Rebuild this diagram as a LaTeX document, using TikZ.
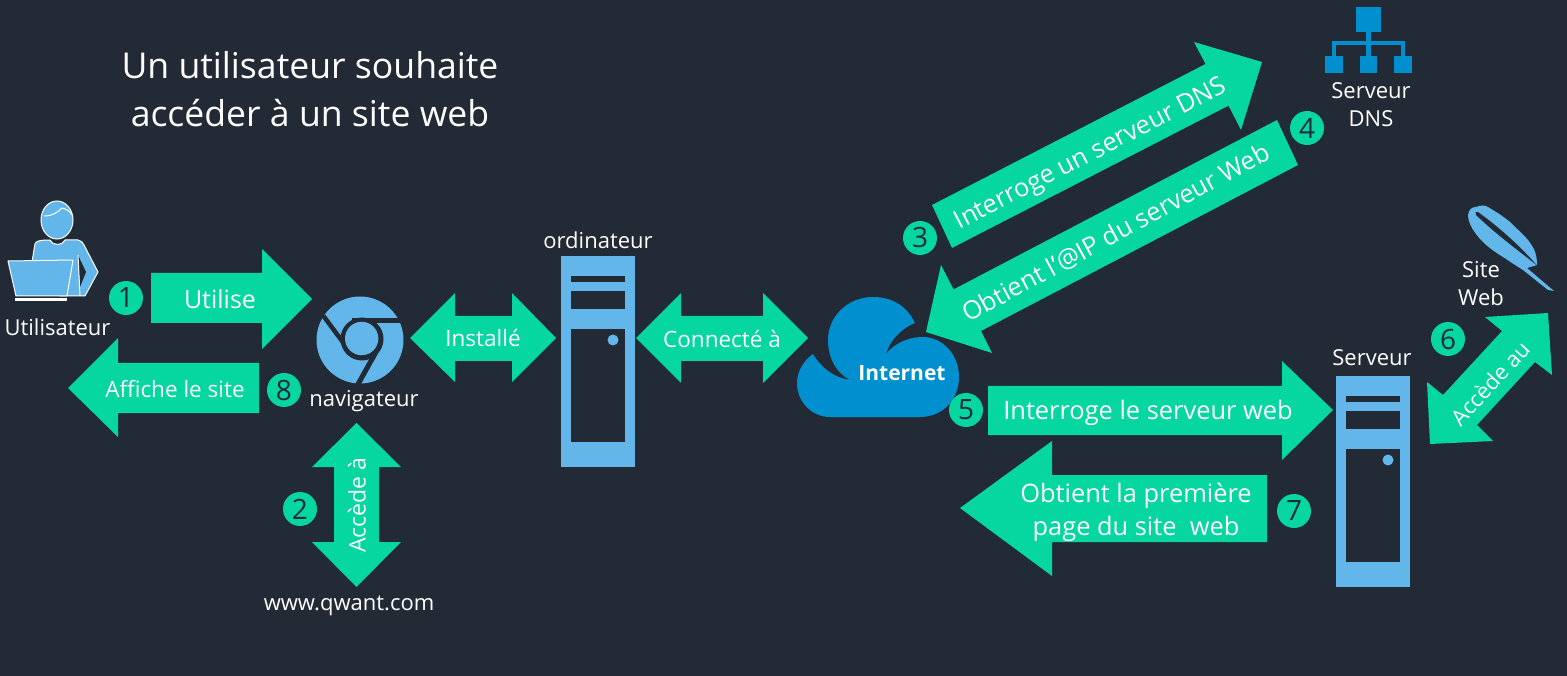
\documentclass[tikz,border=0pt]{standalone}
\usepackage{fontspec}
\setmainfont{Open Sans}
\definecolor{bg}{HTML}{222A35}
\definecolor{vert}{HTML}{06D6A0}
\definecolor{ciel}{HTML}{63B6E9}
\definecolor{azur}{HTML}{0090D0}
\definecolor{chiffre}{HTML}{1B2A41}
\newcommand{\fs}[2]{\fontsize{#1}{#2}\selectfont}
\newcommand{\serverbox}[2]{%
  \fill[ciel] (#1+561,#2+256) rectangle (#1+635,#2+467);
  \fill[bg] (#1+571,#2+276) rectangle (#1+625,#2+282);
  \fill[bg] (#1+571,#2+291) rectangle (#1+625,#2+309);
  \fill[bg] (#1+571,#2+329) rectangle (#1+625,#2+442);
  \fill[ciel] (#1+613,#2+340) circle[radius=5.5];
}
\tikzset{
  x=1pt,y=-1pt,
  blockarrow/.style={fill=vert},
  lab/.style={text=white,inner sep=0pt,align=center,font=\fs{22}{28}},
  arrowtext/.style={text=white,inner sep=0pt,align=center,font=\fs{22.5}{33}},
  bigtext/.style={text=white,inner sep=0pt,align=center,font=\fs{25.4}{33}},
  num/.style={circle,fill=vert,minimum size=34pt,inner sep=0pt,text=chiffre,font=\fs{28}{28}},
}
\begin{document}
\begin{tikzpicture}
\useasboundingbox (0,0) rectangle (1567,676);
\fill[bg] (0,0) rectangle (1567,676);

% title
\node[text=white,inner sep=0pt,align=center,font=\fs{35.6}{48}] (title) at (310,89) {Un utilisateur souhaite\\accéder à un site web};

% person
\fill[ciel,draw=white,line width=1pt,line join=round] (32,262) -- (35,244) .. controls (36,241) and (40,240) .. (50,240) .. controls (52,246) and (63,246) .. (65,240) -- (78,240) .. controls (81,240) and (83,243) .. (84,245) -- (98,272) -- (85,296) -- (60,296) -- cycle;
\fill[bg] (78,255) -- (86,272) -- (80,287) -- cycle;
\draw[white,line width=1pt] (78,255) -- (80,296);
\fill[ciel,draw=white,line width=1pt] (57,220) ellipse[x radius=16,y radius=19];
\draw[white,line width=1pt] (44,216) .. controls (53,216) and (58,212) .. (62,208) .. controls (66,209) and (70,211) .. (72,215);
\fill[ciel,draw=white,line width=1pt,line join=round] (8,261) -- (73,260) -- (67,296) -- (16,296) -- cycle;
\draw[white,line width=2.5pt] (15,299.5) -- (67,299.5);
\node[lab] (user) at (57.5,327) {Utilisateur};

% browser icon
\fill[ciel] (360,340) circle[radius=43.5];
\draw[bg,line width=5pt] (352,321) -- (405,321);
\draw[bg,line width=4.5pt] (323.5,316) -- (345,345);
\draw[bg,line width=5pt] (357,386) -- (376,352);
\fill[bg] (362,339) circle[radius=21.5];
\fill[ciel] (361.7,338.5) circle[radius=16.7];
\node[lab] (browser) at (364,401) {navigateur};

% computers
\serverbox{0}{0}
\node[lab] (pc) at (598,240) {ordinateur};
\serverbox{775}{120}
\node[lab] (srv) at (1372,358) {Serveur};

% cloud
\fill[azur] (830,417) -- (920,417) .. controls (944,417) and (959,398) .. (959,377) .. controls (959,354) and (942,337) .. (923,337) .. controls (906,337) and (893,345) .. (886,354) .. controls (890,340) and (902,328) .. (915,323) .. controls (907,306) and (892,297) .. (873,297) .. controls (848,297) and (828,316) .. (828,340) .. controls (828,360) and (838,374) .. (850,380) .. controls (835,378) and (821,368) .. (813,354) .. controls (803,361) and (797,372) .. (797,383) .. controls (797,402) and (812,417) .. (830,417) -- cycle;
\node[text=white,inner sep=0pt,font=\fs{21}{21}\bfseries] (net) at (902,373) {Internet};

% DNS icon
\fill[azur] (1356,7) rectangle (1381,32);
\fill[azur] (1366,32) rectangle (1371,56);
\fill[azur] (1332,41) rectangle (1405,45);
\fill[azur] (1332,41) rectangle (1336,56);
\fill[azur] (1401,41) rectangle (1405,56);
\fill[azur] (1325,56) rectangle (1343,73);
\fill[azur] (1360,56) rectangle (1377,73);
\fill[azur] (1394,56) rectangle (1412,73);
\node[lab] (dns) at (1371,105) {Serveur\\DNS};

% feather
\fill[ciel] (1468,215) .. controls (1469,209) and (1472,207) .. (1476,207) .. controls (1481,205) and (1485,205) .. (1488,207) .. controls (1498,213) and (1504,217) .. (1510,222) .. controls (1518,230) and (1524,235) .. (1528,240) .. controls (1533,247) and (1537,252) .. (1537,265) -- (1527,268) -- (1554,291) -- (1548,290) -- (1523,270) .. controls (1515,265) and (1509,261) .. (1503,257) .. controls (1495,252) and (1489,248) .. (1483,242) .. controls (1478,237) and (1475,233) .. (1472,228) .. controls (1470,224) and (1468,220) .. (1468,215) -- cycle;
\fill[bg] (1478,212) .. controls (1500,228) and (1520,246) .. (1537,265.5) .. controls (1518,250) and (1498,236) .. (1476,215) .. controls (1474.5,213) and (1476,211) .. (1478,212) -- cycle;
\node[lab] (site) at (1481,284) {Site\\Web};

% block arrows
\fill[blockarrow] (151,273) -- (262,273) -- (262,249) -- (312,299) -- (262,349) -- (262,323) -- (151,323) -- cycle;
\node[arrowtext,font=\fs{25}{25}] (a1) at (220,299) {Utilise};

\fill[blockarrow] (68,388) -- (118,338) -- (118,363) -- (259,363) -- (259,413) -- (118,413) -- (118,437) -- cycle;
\node[arrowtext] (a8) at (175,389) {Affiche le site};

\fill[blockarrow] (410,338) -- (455,293) -- (455,316) -- (512,316) -- (512,293) -- (556,338) -- (512,382) -- (512,361) -- (455,361) -- (455,382) -- cycle;
\node[arrowtext] (a9) at (483,338) {Installé};

\fill[blockarrow] (636,338) -- (681,293) -- (681,316) -- (763,316) -- (763,293) -- (808,338) -- (763,383) -- (763,361) -- (681,361) -- (681,383) -- cycle;
\node[arrowtext] (a10) at (722,339) {Connecté à};

\fill[blockarrow] (356.5,423) -- (401,467) -- (379,467) -- (379,542) -- (401,542) -- (356.5,587) -- (312,542) -- (334,542) -- (334,467) -- (312,467) -- cycle;
\node[arrowtext,rotate=90,font=\fs{23}{23}] (a2) at (357,505) {Accède à};
\node[lab] (www) at (349,606) {www.qwant.com};

\fill[blockarrow] (932,205) -- (1205.5,64) -- (1194,42) -- (1262,62) -- (1241,130) -- (1228.5,105.6) -- (952,248) -- cycle;
\node[bigtext,rotate=27.3] (a3) at (1091,155) {Interroge un serveur DNS};

\fill[blockarrow] (1277,120) -- (953.6,289.4) -- (941,265) -- (926,332) -- (992,353) -- (981,331) -- (1298,165) -- cycle;
\node[bigtext,rotate=28.5] (a4) at (1116,233) {Obtient l'@IP du serveur Web};

\fill[blockarrow] (988,386) -- (1282,386) -- (1282,361) -- (1333,410) -- (1282,460) -- (1282,435) -- (988,435) -- cycle;
\node[bigtext] (a5) at (1148,413) {Interroge le serveur web};

\fill[blockarrow] (960,508) -- (1052,441) -- (1052,475) -- (1267,475) -- (1267,542) -- (1052,542) -- (1052,576) -- cycle;
\node[bigtext] (a7) at (1136,512) {Obtient la première\\page du site\ \ web};

\fill[blockarrow] (1548,313) -- (1552,375) -- (1535,362) -- (1477,425) -- (1493,441) -- (1430,444) -- (1427,382) -- (1443,395) -- (1502,331) -- (1485,317) -- cycle;
\node[arrowtext,rotate=47.5,font=\fs{22}{22}] (a6) at (1490,383) {Accède au};

% numbers
\node[num] (n1) at (126,298) {1};
\node[num] (n2) at (300,509) {2};
\node[num] (n3) at (920,238) {3};
\node[num] (n4) at (1307,128) {4};
\node[num] (n5) at (966,410) {5};
\node[num] (n6) at (1448,339) {6};
\node[num] (n7) at (1294,511) {7};
\node[num] (n8) at (284,390) {8};
\end{tikzpicture}
\end{document}
